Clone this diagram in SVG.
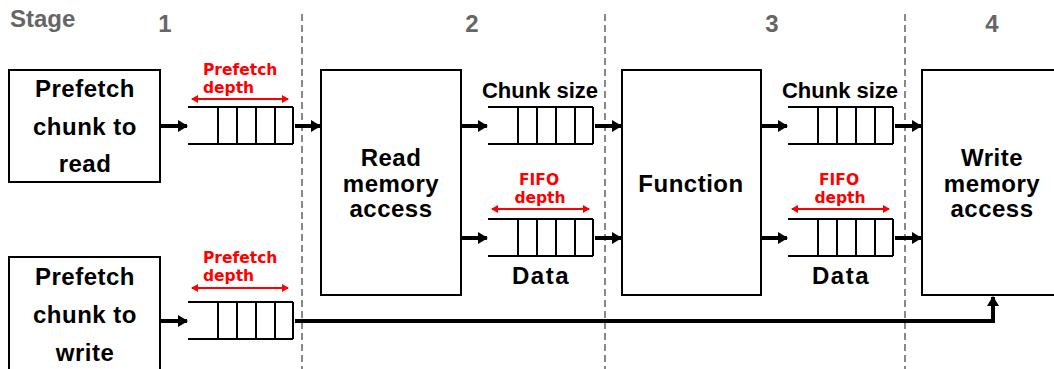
<svg xmlns="http://www.w3.org/2000/svg" width="1054" height="369" viewBox="0 0 1054 369">
<style>
.box{fill:#fff;stroke:#000;stroke-width:2}
.t{font-family:"Liberation Sans",Arial,sans-serif;font-weight:bold;font-size:24px;fill:#000;text-anchor:middle;letter-spacing:0.5px}
.lbl{font-family:"Liberation Sans",Arial,sans-serif;font-weight:bold;font-size:22px;fill:#000;text-anchor:middle}
.red{font-family:"DejaVu Sans",Verdana,sans-serif;font-weight:bold;font-size:15.5px;fill:#f00}
.stg{font-family:"Liberation Sans",Arial,sans-serif;font-weight:bold;font-size:24px;fill:#666}
.q{fill:none;stroke:#000;stroke-width:2}
.dash{stroke:#888;stroke-width:2;stroke-dasharray:7 4}
.arr{stroke:#000;stroke-width:4;fill:none;marker-end:url(#ah)}
.rarr{stroke:#f00;stroke-width:2;marker-start:url(#rh);marker-end:url(#rh)}
</style>
<defs>
<marker id="ah" markerUnits="userSpaceOnUse" markerWidth="10" markerHeight="12" refX="9" refY="6" orient="auto"><path d="M0,0 L10,6 L0,12 z" fill="#000"/></marker>
<marker id="rh" markerUnits="userSpaceOnUse" markerWidth="7" markerHeight="8" refX="6" refY="4" orient="auto-start-reverse"><path d="M0,0 L7,4 L0,8 z" fill="#f00"/></marker>
<g id="queue"><path class="q" d="M0,0 H105 M0,37 H105 M30,0 V37 M49,0 V37 M68,0 V37 M87,0 V37 M105,0 V37"/></g>
</defs>

<g id="stages">
<line class="dash" x1="302" y1="14" x2="302" y2="369"/>
<line class="dash" x1="605" y1="14" x2="605" y2="369"/>
<line class="dash" x1="905" y1="14" x2="905" y2="369"/>
<text class="stg" x="10" y="27">Stage</text>
<text class="stg" x="165" y="32" text-anchor="middle">1</text>
<text class="stg" x="472" y="32" text-anchor="middle">2</text>
<text class="stg" x="772" y="32" text-anchor="middle">3</text>
<text class="stg" x="992" y="32" text-anchor="middle">4</text>
</g>

<g id="prefetch-read">
<rect class="box" x="9" y="70" width="151" height="112"/>
<text class="t" x="85" y="97">Prefetch</text>
<text class="t" x="85" y="135">chunk to</text>
<text class="t" x="85" y="172">read</text>
</g>

<g id="prefetch-write">
<rect class="box" x="9" y="257" width="151" height="120"/>
<text class="t" x="85" y="285">Prefetch</text>
<text class="t" x="85" y="323">chunk to</text>
<text class="t" x="85" y="361">write</text>
</g>

<g id="queue-read">
<use href="#queue" x="188" y="107"/>
<line class="rarr" x1="192" y1="99" x2="288" y2="99"/>
<text class="red" x="203" y="74.5">Prefetch</text>
<text class="red" x="203" y="92.5">depth</text>
</g>

<g id="queue-write">
<use href="#queue" x="188" y="302"/>
<line class="rarr" x1="192" y1="288" x2="288" y2="288"/>
<text class="red" x="203" y="262.5">Prefetch</text>
<text class="red" x="203" y="280.5">depth</text>
</g>

<g id="read-access">
<rect class="box" x="321" y="70" width="140" height="225"/>
<text class="t" x="391" y="166">Read</text>
<text class="t" x="391" y="192">memory</text>
<text class="t" x="391" y="217">access</text>
</g>

<g id="queue-chunk2">
<use href="#queue" x="488" y="107"/>
<text class="lbl" x="540" y="98">Chunk size</text>
</g>

<g id="queue-data2">
<use href="#queue" x="488" y="219"/>
<line class="rarr" x1="492" y1="209" x2="589" y2="209"/>
<text class="red" x="539" y="184.5" text-anchor="middle">FIFO</text>
<text class="red" x="540" y="202.5" text-anchor="middle">depth</text>
<text class="t" x="541" y="284" style="letter-spacing:1.5px">Data</text>
</g>

<g id="function">
<rect class="box" x="622" y="70" width="139" height="225"/>
<text class="t" x="691" y="192">Function</text>
</g>

<g id="queue-chunk3">
<use href="#queue" x="788" y="107"/>
<text class="lbl" x="840" y="98">Chunk size</text>
</g>

<g id="queue-data3">
<use href="#queue" x="788" y="219"/>
<line class="rarr" x1="792" y1="209" x2="889" y2="209"/>
<text class="red" x="839" y="184.5" text-anchor="middle">FIFO</text>
<text class="red" x="840" y="202.5" text-anchor="middle">depth</text>
<text class="t" x="841" y="284" style="letter-spacing:1.5px">Data</text>
</g>

<g id="write-access">
<rect class="box" x="922" y="70" width="140" height="225"/>
<text class="t" x="992" y="166">Write</text>
<text class="t" x="992" y="192">memory</text>
<text class="t" x="992" y="217">access</text>
</g>

<g id="connectors">
<line class="arr" x1="161" y1="126" x2="187" y2="126"/>
<line class="arr" x1="295" y1="126" x2="320" y2="126"/>
<line class="arr" x1="161" y1="321" x2="187" y2="321"/>
<line class="arr" x1="462" y1="126" x2="487" y2="126"/>
<line class="arr" x1="462" y1="238" x2="487" y2="238"/>
<line class="arr" x1="595" y1="126" x2="621" y2="126"/>
<line class="arr" x1="595" y1="238" x2="621" y2="238"/>
<line class="arr" x1="762" y1="126" x2="787" y2="126"/>
<line class="arr" x1="762" y1="238" x2="787" y2="238"/>
<line class="arr" x1="895" y1="126" x2="921" y2="126"/>
<line class="arr" x1="895" y1="238" x2="921" y2="238"/>
<polyline class="arr" points="295,321 993,321 993,297"/>
</g>
</svg>
